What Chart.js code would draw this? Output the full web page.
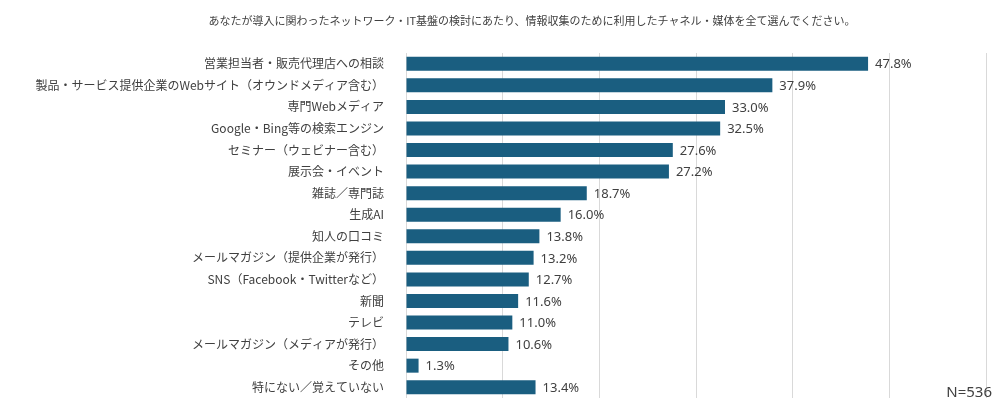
<!DOCTYPE html>
<html>
<head>
<meta charset="utf-8">
<script src="https://cdn.jsdelivr.net/npm/chart.js@4"></script>
<style>
  body { margin: 0; background: #fff; }
  #wrap { width: 1000px; height: 411px; }
</style>
</head>
<body>
<div id="wrap"><canvas id="chart"></canvas></div>
<script>
// Question text
const titleText = "あなたが導入に関わったネットワーク・IT基盤の検討にあたり、情報収集のために利用したチャネル・媒体を全て選んでください。";
// Channels (top to bottom)
const categories = [
  "営業担当者・販売代理店への相談",
  "製品・サービス提供企業のWebサイト（オウンドメディア含む）",
  "専門Webメディア",
  "Google・Bing等の検索エンジン",
  "セミナー（ウェビナー含む）",
  "展示会・イベント",
  "雑誌／専門誌",
  "生成AI",
  "知人の口コミ",
  "メールマガジン（提供企業が発行）",
  "SNS（Facebook・Twitterなど）",
  "新聞",
  "テレビ",
  "メールマガジン（メディアが発行）",
  "その他",
  "特にない／覚えていない",
];
// Share of respondents, %
const values = [47.8, 37.9, 33.0, 32.5, 27.6, 27.2, 18.7, 16.0, 13.8, 13.2, 12.7, 11.6, 11.0, 10.6, 1.3, 13.4];
const sampleLabel = "N=536";

const textColor = "#404040";

//question text, centred a bit right of the page middle like the original
const questionTitle = {
  id: "questionTitle",
  afterDraw(chart) {
    const ctx = chart.ctx;
    ctx.save();
    ctx.font = '11px "Noto Sans CJK JP"';
    ctx.fillStyle = textColor;
    ctx.textAlign = "center";
    ctx.textBaseline = "middle";
    ctx.fillText(titleText, 532, 21);
    ctx.restore();
  },
};

//draw the percentage to the right of each bar
const valueLabels = {
  id: "valueLabels",
  afterDatasetsDraw(chart) {
    const ctx = chart.ctx;
    const meta = chart.getDatasetMeta(0);
    ctx.save();
    ctx.font = '13px "Noto Sans"';
    ctx.fillStyle = textColor;
    ctx.textAlign = "left";
    ctx.textBaseline = "middle";
    meta.data.forEach((bar, i) => {
      ctx.fillText(values[i].toFixed(1) + "%", bar.x + 7, bar.y + 1);
    });
    ctx.restore();
  },
};

//sample size in the bottom right corner
const sampleNote = {
  id: "sampleNote",
  afterDraw(chart) {
    const ctx = chart.ctx;
    ctx.save();
    ctx.font = '15px "Noto Sans"';
    ctx.fillStyle = textColor;
    ctx.textAlign = "right";
    ctx.textBaseline = "alphabetic";
    ctx.fillText(sampleLabel, 992, 397);
    ctx.restore();
  },
};

new Chart(document.getElementById("chart"), {
  type: "bar",
  plugins: [questionTitle, valueLabels, sampleNote],
  data: {
    labels: categories,
    datasets: [
      {
        data: values,
        backgroundColor: "#1a5e80",
        barPercentage: 0.65,
        categoryPercentage: 1,
      },
    ],
  },
  options: {
    indexAxis: "y",
    responsive: true,
    maintainAspectRatio: false,
    animation: false,
    layout: { padding: { left: 0, right: 14, bottom: 13, top: 53 } },
    plugins: {
      legend: { display: false },
      tooltip: { enabled: false },
      title: { display: false },
    },
    scales: {
      x: {
        min: 0,
        max: 60,
        ticks: { display: false, stepSize: 10 },
        grid: { color: "#d9d9d9", drawTicks: false },
        border: { display: false },
        afterFit(scale) {
          scale.height = 0;
        },
      },
      y: {
        grid: { display: false },
        border: { display: false },
        ticks: {
          color: textColor,
          padding: 14,
          font: { family: '"Noto Sans CJK JP"', size: 12 },
        },
        afterFit(scale) {
          //fixed label column, and no extra space above/below for the tick padding
          scale.width = 406;
          scale.paddingTop = 0;
          scale.paddingBottom = 0;
        },
      },
    },
  },
});
</script>
</body>
</html>
